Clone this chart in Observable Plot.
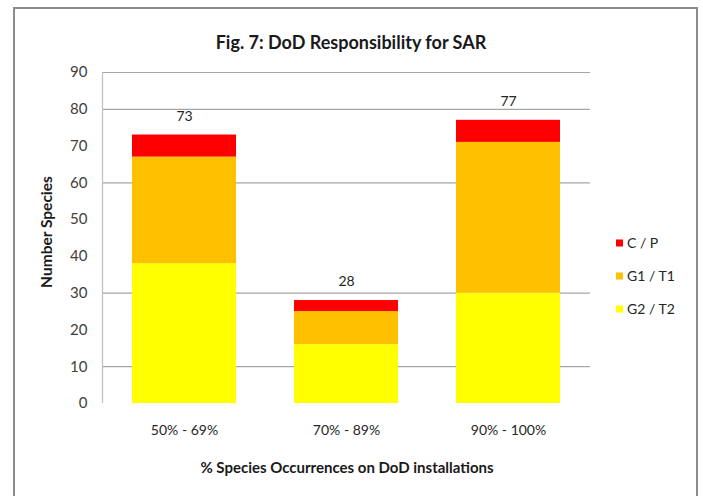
<!DOCTYPE html>
<html>
<head>
<meta charset="utf-8">
<script src="https://cdn.jsdelivr.net/npm/d3@7"></script>
<script src="https://cdn.jsdelivr.net/npm/@observablehq/plot@0.6"></script>
<style>
  html, body { margin: 0; padding: 0; background: #fff; }
  #chart { position: relative; width: 703px; height: 496px; overflow: hidden; }
  svg { font-family: Lato, "Open Sans", sans-serif; }
</style>
</head>
<body>
<div id="chart"></div>
<script>
const categories = ["50% - 69%", "70% - 89%", "90% - 100%"];
const seriesNames = ["G2 / T2", "G1 / T1", "C / P"];
const seriesColors = ["#FFFF00", "#FFC000", "#FF0000"];
const g2t2 = [38, 16, 30];
const g1t1 = [29, 9, 41];
const cp = [6, 3, 6];
const totals = [73, 28, 77];
const yTicks = [0, 10, 20, 30, 40, 50, 60, 70, 80, 90];
const gridValues = [10, 30, 60, 80, 90];

const seriesValues = [g2t2, g1t1, cp];
const rows = [];
seriesNames.forEach((s, si) => {
  categories.forEach((c, ci) => rows.push({category: c, series: s, value: seriesValues[si][ci]}));
});
const totalRows = categories.map((c, i) => ({category: c, total: totals[i]}));

const W = 703, H = 496;
const chart = Plot.plot({
  width: W,
  height: H,
  marginLeft: 102,
  marginRight: 113,
  marginTop: 72,
  marginBottom: 93,
  style: {fontFamily: "Lato, 'Open Sans', sans-serif", background: "#fff"},
  x: {domain: categories, paddingInner: 0.355, paddingOuter: 0.1775, label: null},
  y: {domain: [0, 90], label: null},
  color: {domain: seriesNames, range: seriesColors},
  marks: [
    Plot.ruleY(gridValues, {stroke: "#a6a6a6", strokeWidth: 1.2}),
    Plot.barY(rows, {x: "category", y: "value", fill: "series"}),
    Plot.text(totalRows, {x: "category", y: "total", text: d => String(d.total), dy: -19, fontSize: 14, fill: "#262626"}),
    Plot.axisY({ticks: yTicks, tickSize: 0, tickPadding: 15, fontSize: 15, fill: "#404040", label: null}),
    Plot.axisX({tickSize: 0, tickPadding: 22, fontSize: 14, fill: "#262626", label: null})
  ]
});

const svg = d3.select(chart);
// y axis line
svg.append("line").attr("x1", 102.5).attr("x2", 102.5).attr("y1", 72).attr("y2", 403)
  .attr("stroke", "#bfbfbf").attr("stroke-width", 1.2);
// outer frame
svg.append("rect").attr("x", 14).attr("y", 8).attr("width", 683).attr("height", 510)
  .attr("fill", "none").attr("stroke", "#8c8c8c").attr("stroke-width", 2);
// title
svg.append("text").attr("x", 351).attr("y", 49).attr("text-anchor", "middle")
  .attr("font-size", 18).attr("font-weight", "bold").attr("fill", "#1a1a1a")
  .text("Fig. 7: DoD Responsibility for SAR");
// axis titles
svg.append("text").attr("x", 347).attr("y", 473).attr("text-anchor", "middle")
  .attr("font-size", 15).attr("font-weight", "bold").attr("fill", "#1a1a1a")
  .text("% Species Occurrences on DoD installations");
svg.append("text").attr("transform", "translate(52,232) rotate(-90)").attr("text-anchor", "middle")
  .attr("font-size", 15.5).attr("font-weight", "bold").attr("fill", "#1a1a1a")
  .text("Number Species");
// legend (top to bottom: C / P, G1 / T1, G2 / T2)
const legendOrder = seriesNames.map((s, i) => ({name: s, color: seriesColors[i]})).reverse();
const lg = svg.append("g").attr("text-anchor", "start");
legendOrder.forEach((d, i) => {
  const y = 243 + i * 33;
  lg.append("rect").attr("x", 616).attr("y", y - 3.5).attr("width", 7).attr("height", 7).attr("fill", d.color);
  lg.append("text").attr("x", 627).attr("y", y).attr("dy", "0.35em").attr("text-anchor", "start")
    .attr("font-size", 14).attr("fill", "#262626").text(d.name);
});

document.getElementById("chart").appendChild(chart);
</script>
</body>
</html>
